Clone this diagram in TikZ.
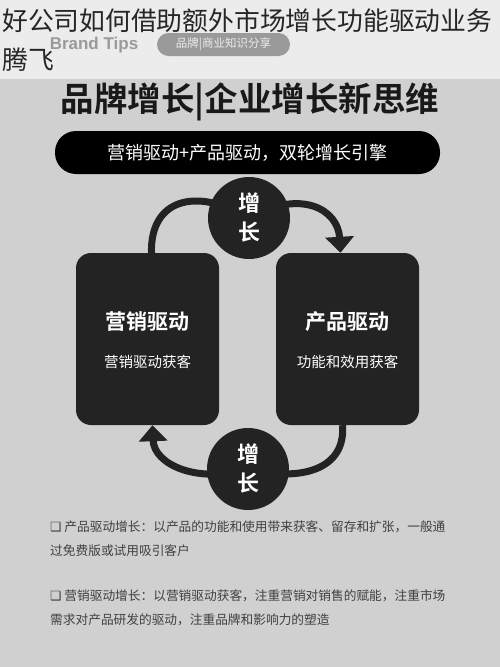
\documentclass[tikz,border=0pt]{standalone}
\usepackage{fontspec}
\setmainfont{Noto Sans CJK SC}[BoldFont={Noto Sans CJK SC Bold}]
\newfontfamily\symfont{DejaVu Sans}
\newfontfamily\latinfont{Liberation Sans}
\usetikzlibrary{arrows.meta}
\pgfdeclarelayer{bg}
\pgfsetlayers{bg,main}
\definecolor{stripgray}{HTML}{ECECEC}
\definecolor{pagegray}{HTML}{D0D0D0}
\definecolor{boxblack}{HTML}{232323}
\definecolor{notegray}{HTML}{404040}
\definecolor{taggray}{HTML}{9A9A9A}
\tikzset{
  card/.style={fill=boxblack, rounded corners=15pt, minimum width=143pt, minimum height=172pt},
  hub/.style={circle, fill=boxblack, minimum size=82pt, inner sep=0pt, text=white, align=center,
    font=\fontsize{22}{29}\selectfont\bfseries},
  swoosh/.style={line width=7pt, draw=boxblack, -{Triangle[width=28pt,length=16pt]}},
  note/.style={anchor=west, text=notegray, inner sep=0pt, font=\fontsize{12.7}{15}\selectfont}
}
\begin{document}
\begin{tikzpicture}[x=1pt,y=-1pt]
  \useasboundingbox (0,0) rectangle (500,667);
  \begin{pgfonlayer}{bg}
    \fill[pagegray] (0,0) rectangle (500,667);
    \fill[stripgray] (0,0) rectangle (500,79);
  \end{pgfonlayer}
  % header
  \node[text=taggray, font=\latinfont\fontsize{17}{19}\selectfont\bfseries] (brand) at (94,45) {Brand Tips};
  \node[fill=taggray, rounded corners=11.5pt, minimum width=133pt, minimum height=23pt, inner sep=0pt,
    text=stripgray, font=\fontsize{11.5}{13}\selectfont] (tag) at (223.5,44.5) {品牌|商业知识分享};
  \node[anchor=base west, inner sep=0pt, text=black!85, font=\fontsize{25.8}{30}\selectfont] (head1) at (2,30) {好公司如何借助额外市场增长功能驱动业务};
  \node[anchor=base west, inner sep=0pt, text=black!85, font=\fontsize{25.8}{30}\selectfont] (head2) at (2,69) {腾飞};
  % poster title
  \node[font=\fontsize{33.5}{38}\selectfont\bfseries, text=black!90] (motto) at (250,102) {品牌增长|企业增长新思维};
  \node[fill=black, rounded corners=21pt, minimum width=385pt, minimum height=43pt, text=white,
    font=\fontsize{18}{22}\selectfont] (banner) at (247.5,152.5) {营销驱动+产品驱动，双轮增长引擎};
  % two drivers
  \node[card] (mkt) at (147.5,339) {};
  \node[card] (prd) at (347.5,339) {};
  \node[text=white, font=\fontsize{21}{25}\selectfont\bfseries] (mktTitle) at (mkt.center |- 0,322) {营销驱动};
  \node[text=white, font=\fontsize{14.5}{17}\selectfont] (mktSub) at (mkt.center |- 0,362) {营销驱动获客};
  \node[text=white, font=\fontsize{21}{25}\selectfont\bfseries] (prdTitle) at (prd.center |- 0,322) {产品驱动};
  \node[text=white, font=\fontsize{14.5}{17}\selectfont] (prdSub) at (prd.center |- 0,362) {功能和效用获客};
  \node[hub] (hubTop) at (249,218) {增\\长};
  \node[hub] (hubBot) at (248,469) {增\\长};
  \begin{pgfonlayer}{bg}
    \draw[swoosh] ([xshift=4pt]mkt.north) .. controls (150,200) and (195,186) .. (hubTop.center)
      .. controls (302,188) and (338,210) .. ([xshift=-7pt]prd.north);
    \draw[swoosh] ([xshift=-5pt]prd.south) .. controls (346,470) and (300,482) .. (hubBot.center)
      .. controls (196,484) and (154,464) .. ([xshift=5pt]mkt.south);
  \end{pgfonlayer}
  % notes
  \node[note] (noteA1) at (50,527) {{\symfont ❑} 产品驱动增长：以产品的功能和使用带来获客、留存和扩张，一般通};
  \node[note] (noteA2) at (50,551) {过免费版或试用吸引客户};
  \node[note] (noteB1) at (50,596) {{\symfont ❑} 营销驱动增长：以营销驱动获客，注重营销对销售的赋能，注重市场};
  \node[note] (noteB2) at (50,620) {需求对产品研发的驱动，注重品牌和影响力的塑造};
\end{tikzpicture}
\end{document}
